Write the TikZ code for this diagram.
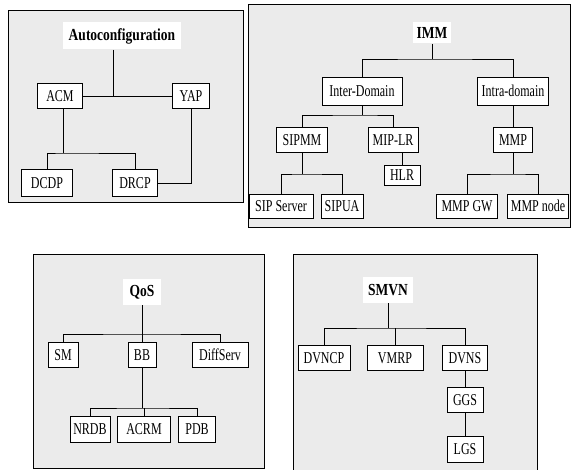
\documentclass[tikz,border=0pt]{standalone}
\usepackage{fontspec}
\usepackage{graphicx}
\setmainfont{Liberation Serif}
% tall, narrow lettering as in the scan
\newcommand{\tx}[1]{\scalebox{1}[1.38]{#1}}
\newcommand{\ttl}[1]{\scalebox{1}[1.25]{#1}}

\begin{document}
\begin{tikzpicture}
[x=1pt,y=-1pt,line width=0.8pt,
% Styles
panel/.style={draw,fill=black!8},
title/.style={fill=white,font=\fontsize{13.5}{15}\selectfont\bfseries,inner sep=1pt},
module/.style={draw,fill=white,font=\fontsize{12}{14}\selectfont,inner sep=1pt,minimum height=25}]
\useasboundingbox (0,0) rectangle (575,470);
% Panels
\draw[panel] (8,10) rectangle (243,202);
\draw[panel] (248,4) rectangle (570,227);
\draw[panel] (33,254) rectangle (264,468);
\draw[panel] (293,254) rectangle (537,474);
% Autoconfiguration
\node[title,minimum width=118,minimum height=27] (auto) at (122,36) {\ttl{Autoconfiguration}};
\node[module,minimum width=45] (acm) at (60,96) {\tx{ACM}};
\node[module,minimum width=37] (yap) at (191,96) {\tx{YAP}};
\node[module,minimum width=51,minimum height=27] (dcdp) at (47,183) {\tx{DCDP}};
\node[module,minimum width=45,minimum height=27] (drcp) at (135,183) {\tx{DRCP}};
\coordinate (autobus) at (113,96);
\coordinate (acmbus) at (63,153);
\draw (autobus |- auto.south) -- (autobus);
\draw (acm) -- (yap);
\draw (acmbus |- acm.south) -- (acmbus);
\draw (dcdp.north) |- (acmbus) -| (drcp.north);
\draw (yap.south) |- (drcp.east);
% IMM
\node[title,minimum width=38,minimum height=21] (imm) at (432,33) {\ttl{IMM}};
\node[module,minimum width=80,minimum height=28] (inter) at (362,91) {\tx{Inter-Domain}};
\node[module,minimum width=71,minimum height=28] (intra) at (513,91) {\tx{Intra-domain}};
\node[module,minimum width=51] (sipmm) at (302,140) {\tx{SIPMM}};
\node[module,minimum width=50] (miplr) at (393,140) {\tx{MIP-LR}};
\node[module,minimum width=36,minimum height=20] (hlr) at (402,175) {\tx{HLR}};
\node[module,minimum width=64,minimum height=24] (sipserver) at (281,206) {\tx{SIP Server}};
\node[module,minimum width=42,minimum height=24] (sipua) at (342,206) {\tx{SIPUA}};
\node[module,minimum width=39] (mmp) at (513,140) {\tx{MMP}};
\node[module,minimum width=61,minimum height=24] (mmpgw) at (467,206) {\tx{MMP GW}};
\node[module,minimum width=61,minimum height=24] (mmpnode) at (538,206) {\tx{MMP node}};
\coordinate (immbus) at (432,59);
\coordinate (interbus) at (362,115);
\coordinate (sipmmbus) at (302,174);
\coordinate (mmpbus) at (513,174);
\draw (imm.south) -- (immbus);
\draw (inter.north) |- (immbus) -| (intra.north);
\draw (inter.south) -- (interbus);
\draw (sipmm.north) |- (interbus) -| (miplr.north);
\draw (hlr.north) -- (hlr.north |- miplr.south);
\draw (sipmm.south) -- (sipmmbus);
\draw (sipserver.north) |- (sipmmbus) -| (sipua.north);
\draw (intra.south) -- (mmp.north);
\draw (mmp.south) -- (mmpbus);
\draw (mmpgw.north) |- (mmpbus) -| (mmpnode.north);
% QoS
\node[title,minimum width=38,minimum height=26] (qos) at (142,292) {\ttl{QoS}};
\node[module,minimum width=30] (sm) at (63,355) {\tx{SM}};
\node[module,minimum width=28] (bb) at (142,355) {\tx{BB}};
\node[module,minimum width=56] (diffserv) at (220,355) {\tx{DiffServ}};
\node[module,minimum width=40,minimum height=26] (nrdb) at (90,429) {\tx{NRDB}};
\node[module,minimum width=53,minimum height=26] (acrm) at (144,429) {\tx{ACRM}};
\node[module,minimum width=37,minimum height=26] (pdb) at (197,429) {\tx{PDB}};
\coordinate (qosbus) at (142,334);
\coordinate (bbbus) at (142,408);
\draw (qos.south) -- (qosbus);
\draw (sm.north) |- (qosbus) -| (diffserv.north);
\draw (bb.north) -- (qosbus);
\draw (bb.south) -- (bbbus);
\draw (nrdb.north) |- (bbbus) -| (pdb.north);
\draw (acrm.north) -- (acrm.north |- bbbus);
% SMVN
\node[title,minimum width=50,minimum height=26] (smvn) at (388,290) {\ttl{SMVN}};
\node[module,minimum width=52] (dvncp) at (324,358) {\tx{DVNCP}};
\node[module,minimum width=56] (vmrp) at (395,358) {\tx{VMRP}};
\node[module,minimum width=45] (dvns) at (465,358) {\tx{DVNS}};
\node[module,minimum width=36] (ggs) at (465,400) {\tx{GGS}};
\node[module,minimum width=36,minimum height=26] (lgs) at (465,449) {\tx{LGS}};
\coordinate (smvnbus) at (388,328);
\draw (smvn.south) -- (smvnbus);
\draw (dvncp.north) |- (smvnbus) -| (dvns.north);
\draw (vmrp.north) -- (vmrp.north |- smvnbus);
\draw (dvns) -- (ggs);
\draw (ggs) -- (lgs);
\end{tikzpicture}
\end{document}
